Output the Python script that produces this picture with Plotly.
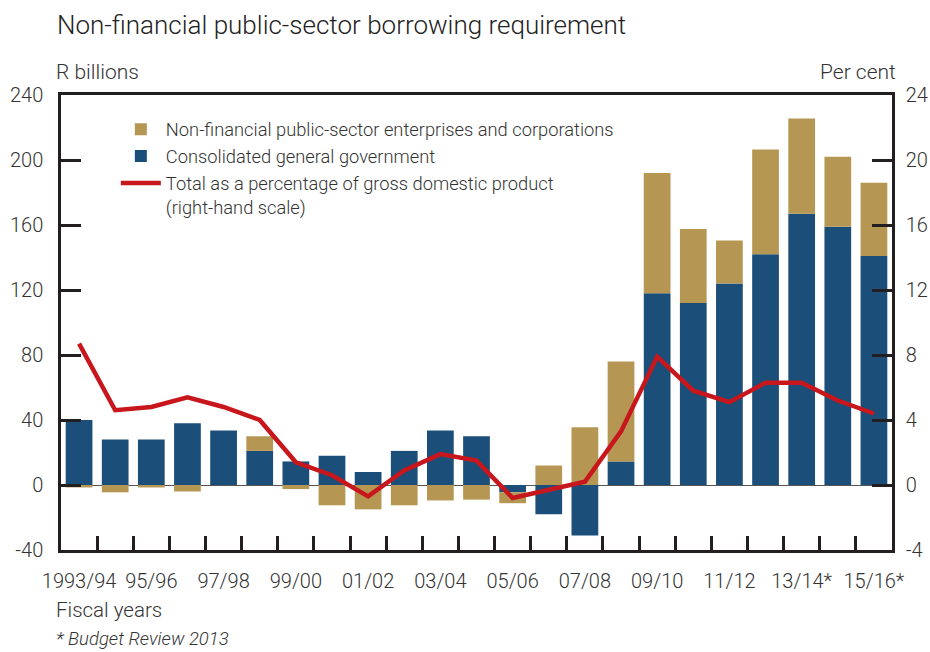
import plotly.graph_objects as go

# Fiscal years (every other year is labelled on the axis)
years = ["1993/94", "94/95", "95/96", "96/97", "97/98", "98/99", "99/00", "00/01",
         "01/02", "02/03", "03/04", "04/05", "05/06", "06/07", "07/08", "08/09",
         "09/10", "10/11", "11/12", "12/13", "13/14*", "14/15*", "15/16*"]

# R billions
general_government = [40, 28, 28, 38, 33.5, 21, 14.5, 18, 8, 21, 33.5, 30,
                      -4.5, -18, -31, 14.5, 118, 112, 124, 142, 167, 159, 141]
enterprises = [-1.5, -4.5, -1.5, -4, 0, 9, -2.5, -12.5, -15, -12.5, -9.5, -9,
               -6.7, 12, 35.5, 61.5, 74, 45.5, 26.5, 64.5, 58.5, 43, 45]

# Per cent of GDP (right-hand scale)
pct_gdp = [8.7, 4.6, 4.8, 5.4, 4.8, 4.0, 1.4, 0.6, -0.7, 0.9, 1.9, 1.5,
           -0.8, -0.3, 0.2, 3.3, 7.9, 5.8, 5.1, 6.3, 6.3, 5.2, 4.4]

left_ticks = [-40, 0, 40, 80, 120, 160, 200, 240]
right_ticks = [-4, 0, 4, 8, 12, 16, 20, 24]

BLUE = "#1b4f79"
GOLD = "#b59753"
RED = "#c8161d"
INK = "#231f20"
TXT = "#333333"
FONT = "Roboto"

idx = list(range(len(years)))
label_idx = idx[::2]
label_txt = [years[i] for i in label_idx]
boundaries = [i + 0.5 for i in idx[:-1]]

fig = go.Figure()
fig.add_trace(go.Bar(x=idx, y=general_government, name="Consolidated general government",
                     marker=dict(color=BLUE, line=dict(width=0)), width=0.74, legendrank=2))
fig.add_trace(go.Bar(x=idx, y=enterprises,
                     name="Non-financial public-sector enterprises and corporations",
                     marker=dict(color=GOLD, line=dict(width=0)), width=0.74, legendrank=1))
fig.add_trace(go.Scatter(x=idx, y=pct_gdp, xaxis="x2", yaxis="y2", mode="lines",
                         line=dict(color=RED, width=4.5),
                         name="Total as a percentage of gross domestic product<br>(right-hand scale)",
                         legendrank=3))

axis_common = dict(showgrid=False, linecolor=INK, linewidth=2.5, tickcolor=INK,
                   tickwidth=2.5, automargin=False,
                   tickfont=dict(family=FONT, size=20, color=TXT, weight=300))

label_font = dict(family=FONT, size=21, color=TXT, weight=300)

fig.update_layout(
    width=930, height=652,
    margin=dict(l=61, r=38, t=95, b=102, autoexpand=False),
    paper_bgcolor="white", plot_bgcolor="white",
    barmode="relative", bargap=0.26,
    font=dict(family=FONT, color=TXT, weight=300),
    title=dict(text="Non-financial public-sector borrowing requirement",
               xref="container", yref="container", x=57 / 930, y=1 - 25 / 652,
               xanchor="left", yanchor="middle",
               font=dict(family=FONT, size=26, color="#222", weight=300)),
    xaxis=dict(range=[-0.5, 22.5], tickmode="array", tickvals=label_idx, ticktext=label_txt,
               ticks="", showline=True, mirror=True, zeroline=False,
               ticklabelstandoff=11, **axis_common),
    xaxis2=dict(range=[-0.5, 22.5], overlaying="x", anchor="y", side="bottom",
                tickmode="array", tickvals=boundaries, ticks="inside", ticklen=14,
                showticklabels=False, showline=False, zeroline=False, automargin=False,
                showgrid=False, tickcolor=INK, tickwidth=2.5),
    yaxis=dict(range=[-40, 240], tickmode="array", tickvals=left_ticks,
               ticktext=[str(v) for v in left_ticks], ticks="inside",
               ticklen=20, showline=True, zeroline=True, zerolinecolor="#555555",
               zerolinewidth=1.2, ticklabelstandoff=11, **axis_common),
    yaxis2=dict(range=[-4, 24], tickmode="array", tickvals=right_ticks,
                ticktext=[str(v) for v in right_ticks], overlaying="y",
                side="right", ticks="inside", ticklen=20, showline=True, zeroline=False,
                ticklabelstandoff=7, **axis_common),
    legend=dict(x=0.066, y=0.965, xanchor="left", yanchor="top", bgcolor="rgba(0,0,0,0)",
                valign="top", itemwidth=40, tracegroupgap=0,
                font=dict(family=FONT, size=18.3, color=TXT, weight=300)),
    showlegend=True,
    annotations=[
        dict(text="R billions", xref="paper", yref="paper", x=-0.008, y=(550 - 72) / 455,
             xanchor="left", yanchor="middle", showarrow=False, font=label_font),
        dict(text="Per cent", xref="paper", yref="paper", x=(898 - 61) / 831, y=(550 - 72) / 455,
             xanchor="right", yanchor="middle", showarrow=False, font=label_font),
        dict(text="Fiscal years", xref="paper", yref="paper", x=-0.009, y=(550 - 610) / 455,
             xanchor="left", yanchor="middle", showarrow=False,
             font=dict(family=FONT, size=20.5, color=TXT, weight=300)),
        dict(text="<i>* Budget Review 2013</i>", xref="paper", yref="paper", x=-0.009,
             y=(550 - 639) / 455, xanchor="left", yanchor="middle", showarrow=False,
             font=dict(family=FONT, size=18.5, color=TXT, weight=300)),
    ],
)

fig.write_html("out.html")
